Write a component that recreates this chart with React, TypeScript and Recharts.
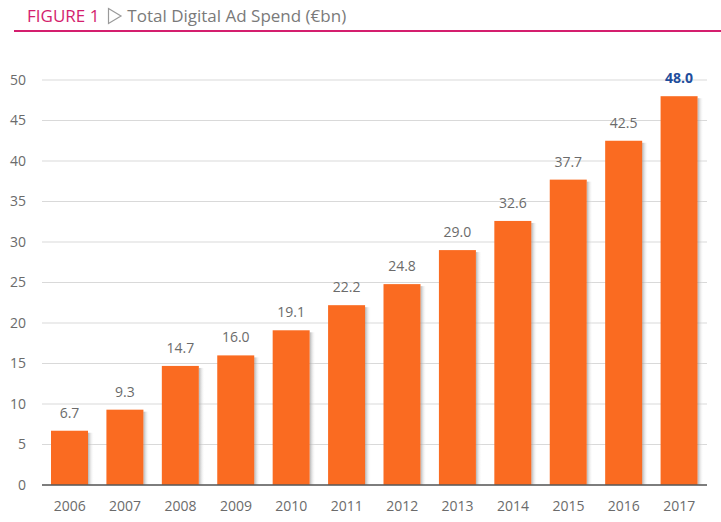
import React from "react";
import { BarChart, Bar, XAxis, YAxis, CartesianGrid, LabelList } from "recharts";

const years = ["2006", "2007", "2008", "2009", "2010", "2011", "2012", "2013", "2014", "2015", "2016", "2017"];
const spend = [6.7, 9.3, 14.7, 16.0, 19.1, 22.2, 24.8, 29.0, 32.6, 37.7, 42.5, 48.0];
const yTicks = [0, 5, 10, 15, 20, 25, 30, 35, 40, 45, 50];

const data = years.map((y, i) => ({ year: y, value: spend[i] }));
const FONT = "'Open Sans', 'Noto Sans', sans-serif";

const BarShape = (props: any) => {
  const { x, y, width, height } = props;
  if (height <= 0) return null;
  return (
    <g>
      <rect x={x + width} y={y + 2} width={6} height={height - 2} fill="url(#shadowGrad)" />
      <rect x={x} y={y} width={width} height={height} fill="#FA6B21" />
    </g>
  );
};

const ValueLabel = (props: any) => {
  const { x, y, width, value, index } = props;
  const last = index === years.length - 1;
  return (
    <text
      x={x + width / 2}
      y={y - 13}
      textAnchor="middle"
      fontFamily={FONT}
      fontSize={14}
      fontWeight={last ? 700 : 400}
      fill={last ? "#1F4E9C" : "#6b6b6b"}
    >
      {Number(value).toFixed(1)}
    </text>
  );
};

export default function App() {
  return (
    <div style={{ position: "absolute", left: 0, top: 0, width: 721, height: 522, background: "#fff" }}>
      <div
        style={{
          position: "absolute",
          left: 27,
          top: 4,
          fontFamily: FONT,
          fontSize: 17,
          whiteSpace: "nowrap",
          display: "flex",
          alignItems: "center",
        }}
      >
        <span style={{ color: "#D41E6E" }}>FIGURE 1</span>
        <svg width={16} height={18} style={{ marginLeft: 8, marginRight: 4 }}>
          <polygon points="1.5,1.5 14,9 1.5,16.5" fill="none" stroke="#9a9a9a" strokeWidth={1.2} />
        </svg>
        <span style={{ color: "#7a7a7a" }}>Total Digital Ad Spend (€bn)</span>
      </div>
      <div style={{ position: "absolute", left: 14, top: 30, width: 707, height: 1.5, background: "#D41E6E" }} />
      <div style={{ position: "absolute", left: 0, top: 0 }}>
        <BarChart
          width={721}
          height={522}
          data={data}
          margin={{ top: 80, right: 14, bottom: 7, left: 0 }}
          barSize={37}
        >
          <defs>
            <linearGradient id="shadowGrad" x1="0" y1="0" x2="1" y2="0">
              <stop offset="0%" stopColor="#9a9a9a" stopOpacity={0.75} />
              <stop offset="100%" stopColor="#ffffff" stopOpacity={0} />
            </linearGradient>
          </defs>
          <CartesianGrid vertical={false} stroke="#d9d9d9" strokeWidth={1} />
          <XAxis
            dataKey="year"
            height={30}
            tickLine={false}
            axisLine={{ stroke: "#595959", strokeWidth: 1.5 }}
            tickSize={0}
            tickMargin={16}
            tick={{ fill: "#6b6b6b", fontSize: 14, fontFamily: FONT }}
          />
          <YAxis
            width={42}
            domain={[0, 50]}
            ticks={yTicks}
            axisLine={false}
            tickLine={false}
            tickSize={0}
            tickMargin={16}
            tick={{ fill: "#6b6b6b", fontSize: 14, fontFamily: FONT }}
          />
          <Bar dataKey="value" shape={BarShape} isAnimationActive={false}>
            <LabelList dataKey="value" content={ValueLabel} />
          </Bar>
        </BarChart>
      </div>
    </div>
  );
}
